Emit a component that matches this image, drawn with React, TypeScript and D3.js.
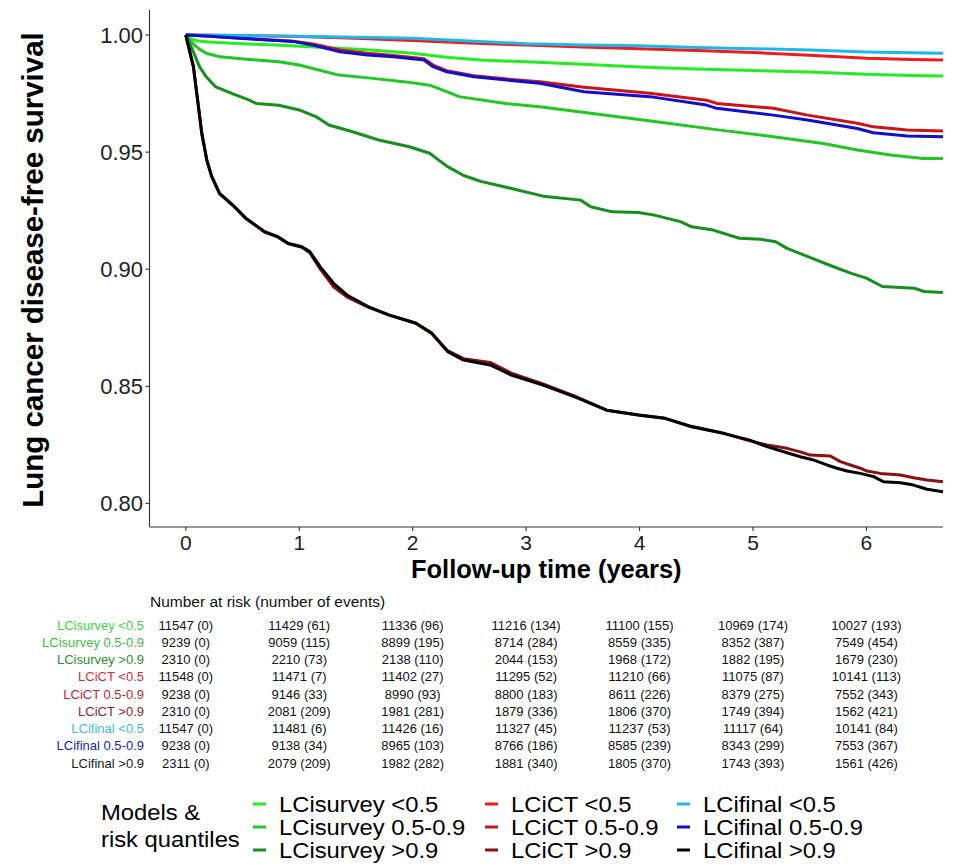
import React from "react";
import * as d3 from "d3";

type Pt = [number, number];

// Survival curves: [years, survival]
const lcisurveyLow: Pt[] = [[0,1],[0.03,0.9985],[0.1,0.9976],[0.2,0.997],[0.5,0.9963],[0.8,0.9957],[1.0,0.9952],[1.3,0.9945],[1.6,0.9937],[2.0,0.9922],[2.3,0.9905],[2.6,0.9893],[3.0,0.9886],[3.5,0.9875],[4.0,0.9864],[4.5,0.9855],[5.0,0.9849],[5.5,0.9842],[6.0,0.9833],[6.4,0.9827],[6.675,0.9825]];
const lcisurveyMid: Pt[] = [[0,1],[0.06,0.9964],[0.12,0.994],[0.18,0.9922],[0.3,0.9907],[0.56,0.9896],[0.82,0.9886],[1.0,0.9872],[1.18,0.985],[1.35,0.9829],[1.65,0.9815],[1.94,0.98],[2.15,0.9786],[2.3,0.9758],[2.41,0.9737],[2.82,0.9708],[3.12,0.9694],[3.57,0.9666],[4.15,0.963],[4.71,0.9594],[5.18,0.9566],[5.62,0.9537],[5.92,0.9509],[6.21,0.9488],[6.5,0.9473],[6.675,0.9473]];
const lcisurveyHigh: Pt[] = [[0,1],[0.06,0.9936],[0.12,0.9865],[0.18,0.9822],[0.26,0.978],[0.41,0.975],[0.56,0.9722],[0.62,0.9708],[0.82,0.97],[1.0,0.968],[1.15,0.9651],[1.26,0.9616],[1.47,0.9587],[1.7,0.9552],[1.97,0.9523],[2.15,0.9495],[2.3,0.944],[2.45,0.94],[2.6,0.9375],[2.87,0.9345],[3.15,0.9312],[3.48,0.9295],[3.57,0.9267],[3.76,0.9245],[3.99,0.9242],[4.13,0.9231],[4.36,0.9203],[4.46,0.9181],[4.65,0.9167],[4.88,0.9132],[5.07,0.9128],[5.2,0.9117],[5.3,0.9089],[5.49,0.9053],[5.67,0.9018],[5.86,0.8983],[6.0,0.8962],[6.14,0.8926],[6.42,0.8919],[6.51,0.8905],[6.675,0.89]];
const lcictLow: Pt[] = [[0,1],[0.5,0.9998],[1.0,0.9994],[1.5,0.9986],[2.0,0.9977],[2.5,0.9966],[3.0,0.9957],[3.5,0.9949],[4.0,0.9942],[4.5,0.9934],[5.0,0.9925],[5.5,0.9914],[6.0,0.9901],[6.4,0.9896],[6.675,0.9893]];
const lcictMid: Pt[] = [[0,1],[0.18,0.9996],[0.47,0.9987],[0.95,0.9974],[1.12,0.9962],[1.36,0.9936],[1.6,0.9922],[1.83,0.9913],[2.1,0.9899],[2.18,0.9872],[2.3,0.9848],[2.54,0.9826],[2.83,0.9812],[3.12,0.9801],[3.51,0.9777],[4.09,0.9751],[4.59,0.9722],[4.68,0.9708],[5.18,0.9687],[5.48,0.9658],[5.92,0.9623],[6.06,0.9608],[6.36,0.9594],[6.675,0.959]];
const lcictHigh: Pt[] = [[0,1],[0.067,0.9865],[0.141,0.958],[0.185,0.9466],[0.229,0.9395],[0.298,0.9322],[0.415,0.9272],[0.532,0.9215],[0.696,0.9158],[0.812,0.9137],[0.906,0.9108],[1.023,0.9094],[1.093,0.907],[1.186,0.9],[1.303,0.8925],[1.42,0.8882],[1.607,0.8838],[1.794,0.8804],[2.027,0.877],[2.167,0.8728],[2.308,0.8652],[2.448,0.8618],[2.682,0.8602],[2.869,0.8556],[3.149,0.851],[3.429,0.8458],[3.71,0.8398],[3.99,0.8377],[4.224,0.8363],[4.458,0.8329],[4.738,0.83],[4.947,0.827],[5.123,0.8249],[5.3,0.8235],[5.417,0.822],[5.505,0.8206],[5.682,0.8202],[5.77,0.8178],[5.858,0.8164],[5.946,0.815],[6.005,0.8138],[6.122,0.8128],[6.299,0.8121],[6.416,0.8109],[6.534,0.81],[6.675,0.8092]];
const lcifinalLow: Pt[] = [[0,1],[0.5,0.9998],[1.0,0.9995],[1.5,0.9991],[2.0,0.9986],[2.5,0.9975],[3.0,0.9963],[3.5,0.9958],[4.0,0.9954],[4.5,0.9947],[5.0,0.9942],[5.5,0.9936],[6.0,0.9928],[6.4,0.9924],[6.675,0.9922]];
const lcifinalMid: Pt[] = [[0,1],[0.18,0.9996],[0.47,0.9986],[0.95,0.9972],[1.12,0.9957],[1.36,0.9929],[1.6,0.9915],[1.83,0.9907],[2.1,0.9893],[2.18,0.9865],[2.3,0.9843],[2.54,0.9822],[2.83,0.9808],[3.12,0.9794],[3.51,0.9758],[4.09,0.9737],[4.59,0.9701],[4.68,0.9687],[5.18,0.9658],[5.48,0.9637],[5.92,0.9601],[6.06,0.9583],[6.36,0.9569],[6.675,0.9566]];
const lcifinalHigh: Pt[] = [[0,1],[0.067,0.9865],[0.141,0.958],[0.185,0.9466],[0.229,0.9395],[0.298,0.9324],[0.415,0.9274],[0.532,0.9217],[0.696,0.916],[0.812,0.9139],[0.906,0.911],[1.023,0.9096],[1.093,0.9075],[1.186,0.901],[1.303,0.894],[1.42,0.889],[1.607,0.884],[1.794,0.8804],[2.027,0.8769],[2.167,0.8726],[2.308,0.8648],[2.448,0.8612],[2.682,0.8591],[2.869,0.8548],[3.149,0.8505],[3.429,0.8455],[3.71,0.8398],[3.99,0.8377],[4.224,0.8363],[4.458,0.8327],[4.738,0.8299],[4.972,0.827],[5.123,0.8242],[5.3,0.8216],[5.417,0.8199],[5.535,0.8185],[5.652,0.8164],[5.74,0.815],[5.829,0.8138],[5.946,0.8128],[6.064,0.8114],[6.152,0.8092],[6.299,0.8088],[6.416,0.8078],[6.534,0.806],[6.675,0.805]];

const seriesNames = ["LCisurvey <0.5","LCisurvey 0.5-0.9","LCisurvey >0.9","LCiCT <0.5","LCiCT 0.5-0.9","LCiCT >0.9","LCifinal <0.5","LCifinal 0.5-0.9","LCifinal >0.9"];
const seriesData = [lcisurveyLow, lcisurveyMid, lcisurveyHigh, lcictLow, lcictMid, lcictHigh, lcifinalLow, lcifinalMid, lcifinalHigh];
const lineColors = ["#22ee22","#22c822","#15901a","#ee1c1c","#cc1414","#8b1010","#1cb8ec","#1010cc","#000000"];
const labelColors = ["#3fd43f","#3cbf3c","#2e8f2e","#dd2a3a","#b8283a","#8e1e26","#3cbce2","#1c1cb4","#222222"];

const xTicks = [0, 1, 2, 3, 4, 5, 6];
const yTicks = [0.8, 0.85, 0.9, 0.95, 1.0];

// Risk table
const riskYears = [0, 1, 2, 3, 4, 5, 6];
const atRisk = [
  [11547, 11429, 11336, 11216, 11100, 10969, 10027],
  [9239, 9059, 8899, 8714, 8559, 8352, 7549],
  [2310, 2210, 2138, 2044, 1968, 1882, 1679],
  [11548, 11471, 11402, 11295, 11210, 11075, 10141],
  [9238, 9146, 8990, 8800, 8611, 8379, 7552],
  [2310, 2081, 1981, 1879, 1806, 1749, 1562],
  [11547, 11481, 11426, 11327, 11237, 11117, 10141],
  [9238, 9138, 8965, 8766, 8585, 8343, 7553],
  [2311, 2079, 1982, 1881, 1805, 1743, 1561],
];
const events = [
  [0, 61, 96, 134, 155, 174, 193],
  [0, 115, 195, 284, 335, 387, 454],
  [0, 73, 110, 153, 172, 195, 230],
  [0, 7, 27, 52, 66, 87, 113],
  [0, 33, 93, 183, 226, 275, 343],
  [0, 209, 281, 336, 370, 394, 421],
  [0, 6, 16, 45, 53, 64, 84],
  [0, 34, 103, 186, 239, 299, 367],
  [0, 209, 282, 340, 370, 393, 426],
];

const FONT = "'Liberation Sans', Arial, Helvetica, sans-serif";

export default function App() {
  const x = d3.scaleLinear().domain([-0.32, 6.675]).range([149.5, 943]);
  const y = d3.scaleLinear().domain([0.7899, 1.0107]).range([527, 10]);
  const line = d3.line<Pt>().x(d => x(d[0])).y(d => y(d[1])).curve(d3.curveLinear);

  const rowY = (i: number) => 629.5 + i * 17.25;
  const legendCols = [253, 485, 677];
  const legendRows = [804, 827, 850];
  const lscale = "scale(1.19,1.075)";

  return (
    <svg width={976} height={868} style={{ position: "absolute", left: 0, top: 0, background: "#fff" }} fontFamily={FONT}>
      <rect x={0} y={0} width={976} height={868} fill="#fff" />
      {/* curves */}
      <g fill="none" strokeWidth={3} strokeLinejoin="round" strokeLinecap="butt">
        {seriesData.map((d, i) => (
          <path key={i} d={line(d) || ""} stroke={lineColors[i]} />
        ))}
      </g>
      {/* axes */}
      <g stroke="#333" strokeWidth={1.1}>
        <line x1={x.range()[0]} x2={x.range()[0]} y1={10} y2={527} />
        <line x1={x.range()[0]} x2={943} y1={527} y2={527} />
        {yTicks.map(t => (
          <line key={t} x1={x.range()[0] - 4} x2={x.range()[0]} y1={y(t)} y2={y(t)} />
        ))}
        {xTicks.map(t => (
          <line key={t} x1={x(t)} x2={x(t)} y1={527} y2={531} />
        ))}
      </g>
      <g fontSize={22} fill="#222">
        {yTicks.map(t => (
          <text key={t} x={143} y={y(t) + 8} textAnchor="end">{d3.format(".2f")(t)}</text>
        ))}
      </g>
      <g fontSize={21} fill="#222">
        {xTicks.map(t => (
          <text key={t} x={x(t)} y={550} textAnchor="middle">{t}</text>
        ))}
      </g>
      <text transform="translate(43,270) rotate(-90)" textAnchor="middle" fontSize={29.5} fontWeight="bold" fill="#000">Lung cancer disease-free survival</text>
      <text x={(149.5 + 943) / 2} y={578} textAnchor="middle" fontSize={25.5} fontWeight="bold" fill="#000">Follow-up time (years)</text>

      {/* risk table */}
      <text x={150} y={607} fontSize={15.5} fill="#111">Number at risk (number of events)</text>
      <g fontSize={13}>
        {seriesNames.map((name, i) => (
          <g key={name}>
            <text x={144} y={rowY(i)} textAnchor="end" fill={labelColors[i]}>{name}</text>
            {riskYears.map((yr, j) => (
              <text key={yr} x={x(yr)} y={rowY(i)} textAnchor="middle" fill="#111">{`${atRisk[i][j]} (${events[i][j]})`}</text>
            ))}
          </g>
        ))}
      </g>

      {/* legend */}
      <g fontSize={20} fill="#000">
        <text transform={`translate(101,820) ${lscale}`}>Models &amp;</text>
        <text transform={`translate(101,847) ${lscale}`}>risk quantiles</text>
        {seriesNames.map((name, i) => {
          const c = Math.floor(i / 3);
          const r = i % 3;
          return (
            <g key={name}>
              <line x1={legendCols[c]} x2={legendCols[c] + 13} y1={legendRows[r]} y2={legendRows[r]} stroke={lineColors[i]} strokeWidth={3} />
              <text transform={`translate(${legendCols[c] + 26},${legendRows[r] + 8}) ${lscale}`}>{name}</text>
            </g>
          );
        })}
      </g>
    </svg>
  );
}
